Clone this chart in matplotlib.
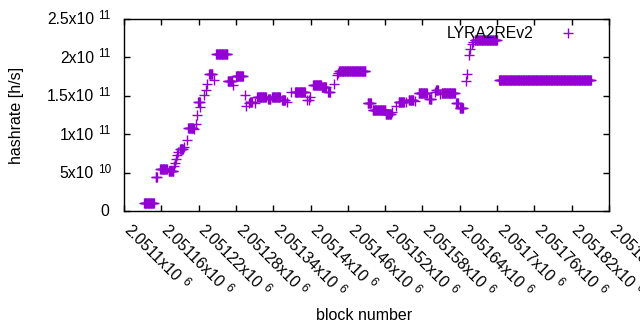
import numpy as np
import matplotlib
matplotlib.use("Agg")
import matplotlib.pyplot as plt
from matplotlib.transforms import ScaledTranslation

plt.rcParams['font.family'] = ['Liberation Sans', 'DejaVu Sans']

# Runs of blocks with constant hashrate (start block, end block, hashrate in h/s)
run_start = [2051132, 2051151, 2051158, 2051172, 2051180, 2051182, 2051184, 2051185,
             2051187, 2051190, 2051196, 2051201, 2051203, 2051213, 2051216, 2051217,
             2051219, 2051223, 2051229, 2051232, 2051234, 2051237, 2051245, 2051248,
             2051267, 2051276, 2051280, 2051295, 2051297, 2051301, 2051303, 2051311,
             2051314, 2051332, 2051338, 2051354, 2051362, 2051369, 2051375, 2051394,
             2051397, 2051399, 2051404, 2051418, 2051428, 2051438, 2051442, 2051444,
             2051446, 2051492, 2051500, 2051521, 2051531, 2051537, 2051542, 2051554,
             2051558, 2051568, 2051574, 2051591, 2051600, 2051602, 2051608, 2051611,
             2051634, 2051640, 2051650, 2051652, 2051655, 2051656, 2051659, 2051662,
             2051664, 2051703]
run_end = [2051148, 2051153, 2051169, 2051179, 2051180, 2051182, 2051184, 2051185,
           2051187, 2051195, 2051196, 2051201, 2051211, 2051213, 2051216, 2051217,
           2051222, 2051223, 2051229, 2051232, 2051234, 2051242, 2051245, 2051266,
           2051274, 2051276, 2051291, 2051295, 2051297, 2051301, 2051306, 2051311,
           2051328, 2051335, 2051351, 2051359, 2051362, 2051369, 2051391, 2051394,
           2051397, 2051399, 2051417, 2051425, 2051431, 2051438, 2051442, 2051444,
           2051488, 2051497, 2051520, 2051529, 2051531, 2051537, 2051550, 2051554,
           2051565, 2051568, 2051587, 2051594, 2051600, 2051605, 2051608, 2051632,
           2051637, 2051645, 2051650, 2051652, 2051655, 2051656, 2051659, 2051662,
           2051700, 2051851]
run_hashrate = [1.0e10, 4.4e10, 5.43e10, 5.2e10, 5.85e10, 6.25e10, 6.77e10, 7.3e10,
                7.7e10, 8.1e10, 8.3e10, 9.2e10, 1.08e11, 1.07e11, 1.13e11, 1.25e11,
                1.42e11, 1.35e11, 1.51e11, 1.58e11, 1.66e11, 1.78e11, 1.70e11, 2.05e11,
                1.69e11, 1.64e11, 1.76e11, 1.51e11, 1.37e11, 1.41e11, 1.42e11, 1.40e11,
                1.48e11, 1.46e11, 1.48e11, 1.45e11, 1.42e11, 1.55e11, 1.55e11, 1.45e11,
                1.44e11, 1.49e11, 1.64e11, 1.61e11, 1.55e11, 1.66e11, 1.77e11, 1.80e11,
                1.82e11, 1.40e11, 1.32e11, 1.26e11, 1.29e11, 1.37e11, 1.42e11, 1.42e11,
                1.45e11, 1.43e11, 1.53e11, 1.46e11, 1.55e11, 1.58e11, 1.52e11, 1.53e11,
                1.40e11, 1.34e11, 1.69e11, 1.78e11, 2.03e11, 2.11e11, 2.17e11, 2.20e11,
                2.23e11, 1.70e11]

x_ticks = [2051100 + 60 * i for i in range(14)]
x_tick_bases = ["2.0511x10", "2.05116x10", "2.05122x10", "2.05128x10", "2.05134x10",
                "2.0514x10", "2.05146x10", "2.05152x10", "2.05158x10", "2.05164x10",
                "2.0517x10", "2.05176x10", "2.05182x10", "2.05188x10"]
x_tick_exps = ["6"] * 14
y_ticks = [0, 5e10, 1e11, 1.5e11, 2e11, 2.5e11]
y_tick_bases = ["0", "5x10", "1x10", "1.5x10", "2x10", "2.5x10"]
y_tick_exps = ["", "10", "11", "11", "11", "11"]

blocks = []
rates = []
for s, e, v in zip(run_start, run_end, run_hashrate):
    b = np.arange(s, e + 1)
    blocks.extend(b.tolist())
    rates.extend([v] * len(b))

DPI = 100
fig = plt.figure(figsize=(6.4, 3.3), dpi=DPI)
ax = fig.add_axes([124/640, 1 - 211/330, (609-124)/640, (211-19)/330])

color = '#9400D3'
ax.plot(blocks, rates, linestyle='none', marker='+', markersize=6.5,
        markeredgewidth=1.0, color=color, label='LYRA2REv2')

ax.set_xlim(2051100, 2051880)
ax.set_ylim(0, 2.5e11)
ax.set_xticks(x_ticks)
ax.set_yticks(y_ticks)
ax.set_xticklabels([])
ax.set_yticklabels([])
ax.tick_params(direction='in', length=4, width=1, top=True, right=True,
               colors='black')
for sp in ax.spines.values():
    sp.set_linewidth(1)

BASE_FS = 11.3
EXP_FS = 8.5
GAP = 4.5     # px between base and exponent
RAISE = 5.3   # px exponent baseline above base baseline


def px(dx, dy):
    return ScaledTranslation(dx / DPI, dy / DPI, fig.dpi_scale_trans)


# y tick labels
ytrans = ax.get_yaxis_transform()
for t, b, e in zip(y_ticks, y_tick_bases, y_tick_exps):
    if not e:
        ax.text(0, t, b, fontsize=BASE_FS, ha='right', va='baseline',
                transform=ytrans + px(-15, -5.3), clip_on=False)
    else:
        ax.text(0, t, b, fontsize=BASE_FS, ha='right', va='baseline',
                transform=ytrans + px(-30, -5.3), clip_on=False)
        ax.text(0, t, e, fontsize=EXP_FS, ha='left', va='baseline',
                transform=ytrans + px(-30 + GAP, -5.3 + RAISE), clip_on=False)

# x tick labels (rotated -45 degrees)
renderer = fig.canvas.get_renderer()
xtrans = ax.get_xaxis_transform()
d = np.array([np.cos(np.radians(-45)), np.sin(np.radians(-45))])
u = np.array([-d[1], d[0]])
for t, b, e in zip(x_ticks, x_tick_bases, x_tick_exps):
    tmp = fig.text(0, 0, b, fontsize=BASE_FS)
    w = tmp.get_window_extent(renderer=renderer).width
    tmp.remove()
    ax.text(t, 0, b, fontsize=BASE_FS, rotation=-45, rotation_mode='anchor',
            ha='left', va='baseline', transform=xtrans + px(-1, -20), clip_on=False)
    off = np.array([-1, -20]) + (w + GAP) * d + RAISE * u
    ax.text(t, 0, e, fontsize=EXP_FS, rotation=-45, rotation_mode='anchor',
            ha='left', va='baseline', transform=xtrans + px(off[0], off[1]),
            clip_on=False)

fig.text(16.5/640, 1 - 115/330, 'hashrate [h/s]', fontsize=11.5, rotation=90,
         ha='center', va='center')
fig.text(364/640, 1 - 315/330, 'block number', fontsize=11.5,
         ha='center', va='center')

ax.legend(loc='upper right', markerfirst=False, frameon=False, fontsize=11.3,
          bbox_to_anchor=(0.968, 1.035), handlelength=1.5, handletextpad=1.4)

fig.savefig('out.png', dpi=DPI)
